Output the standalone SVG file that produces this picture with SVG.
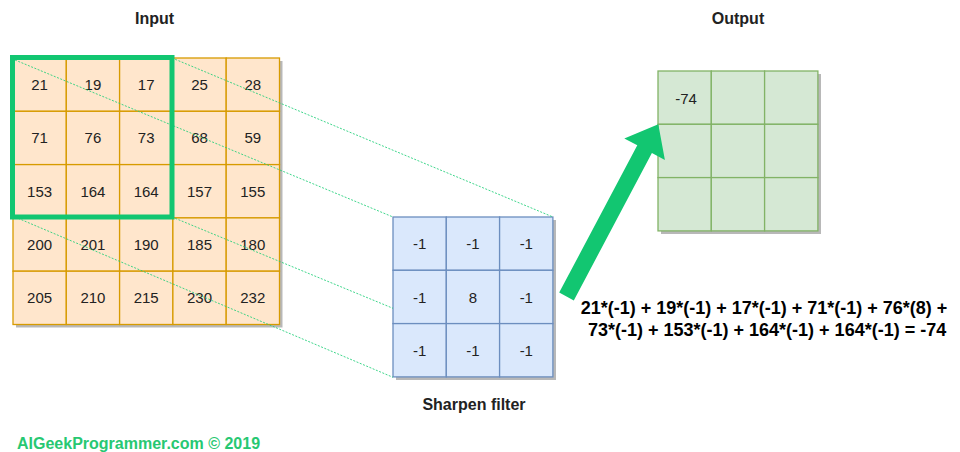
<svg xmlns="http://www.w3.org/2000/svg" width="960" height="452" viewBox="0 0 960 452">
  <style>
    text { font-family: "Liberation Sans", Arial, sans-serif; }
    .title { font-size: 16px; font-weight: bold; fill: #222; text-anchor: middle; }
    .num { font-size: 15px; fill: #222; text-anchor: middle; }
    .eq { font-size: 18px; font-weight: bold; fill: #000; }
    .in-cell { fill: #ffe6cc; stroke: #d79b00; stroke-width: 1.3; }
    .flt-cell { fill: #dae8fc; stroke: #6c8ebf; stroke-width: 1.3; }
    .out-cell { fill: #d5e8d4; stroke: #82b366; stroke-width: 1.3; }
    .shadow { fill: #000; opacity: 0.28; }
    .guide { stroke: #1fcf78; stroke-width: 1; stroke-dasharray: 2 1.5; fill: none; opacity: 0.85; }
    .footer { font-size: 16px; font-weight: bold; fill: #27c872; }
  </style>

  <rect width="960" height="452" fill="#ffffff"/>

  <!-- Titles -->
  <text class="title" x="154.5" y="24">Input</text>
  <text class="title" x="738" y="24">Output</text>

  <!-- Input image 5x5 -->
  <g id="input">
    <rect class="shadow" x="16" y="61" width="266.5" height="266.5"/>
    <g transform="translate(13,58)">
      <rect class="in-cell" x="0" y="0" width="53.3" height="53.3"/>
      <rect class="in-cell" x="53.3" y="0" width="53.3" height="53.3"/>
      <rect class="in-cell" x="106.6" y="0" width="53.3" height="53.3"/>
      <rect class="in-cell" x="159.9" y="0" width="53.3" height="53.3"/>
      <rect class="in-cell" x="213.2" y="0" width="53.3" height="53.3"/>
      <rect class="in-cell" x="0" y="53.3" width="53.3" height="53.3"/>
      <rect class="in-cell" x="53.3" y="53.3" width="53.3" height="53.3"/>
      <rect class="in-cell" x="106.6" y="53.3" width="53.3" height="53.3"/>
      <rect class="in-cell" x="159.9" y="53.3" width="53.3" height="53.3"/>
      <rect class="in-cell" x="213.2" y="53.3" width="53.3" height="53.3"/>
      <rect class="in-cell" x="0" y="106.6" width="53.3" height="53.3"/>
      <rect class="in-cell" x="53.3" y="106.6" width="53.3" height="53.3"/>
      <rect class="in-cell" x="106.6" y="106.6" width="53.3" height="53.3"/>
      <rect class="in-cell" x="159.9" y="106.6" width="53.3" height="53.3"/>
      <rect class="in-cell" x="213.2" y="106.6" width="53.3" height="53.3"/>
      <rect class="in-cell" x="0" y="159.9" width="53.3" height="53.3"/>
      <rect class="in-cell" x="53.3" y="159.9" width="53.3" height="53.3"/>
      <rect class="in-cell" x="106.6" y="159.9" width="53.3" height="53.3"/>
      <rect class="in-cell" x="159.9" y="159.9" width="53.3" height="53.3"/>
      <rect class="in-cell" x="213.2" y="159.9" width="53.3" height="53.3"/>
      <rect class="in-cell" x="0" y="213.2" width="53.3" height="53.3"/>
      <rect class="in-cell" x="53.3" y="213.2" width="53.3" height="53.3"/>
      <rect class="in-cell" x="106.6" y="213.2" width="53.3" height="53.3"/>
      <rect class="in-cell" x="159.9" y="213.2" width="53.3" height="53.3"/>
      <rect class="in-cell" x="213.2" y="213.2" width="53.3" height="53.3"/>
    </g>
    <g class="num">
      <text x="39.6" y="90">21</text><text x="92.9" y="90">19</text><text x="146.2" y="90">17</text><text x="199.5" y="90">25</text><text x="252.8" y="90">28</text>
      <text x="39.6" y="143.3">71</text><text x="92.9" y="143.3">76</text><text x="146.2" y="143.3">73</text><text x="199.5" y="143.3">68</text><text x="252.8" y="143.3">59</text>
      <text x="39.6" y="196.6">153</text><text x="92.9" y="196.6">164</text><text x="146.2" y="196.6">164</text><text x="199.5" y="196.6">157</text><text x="252.8" y="196.6">155</text>
      <text x="39.6" y="249.9">200</text><text x="92.9" y="249.9">201</text><text x="146.2" y="249.9">190</text><text x="199.5" y="249.9">185</text><text x="252.8" y="249.9">180</text>
      <text x="39.6" y="303.2">205</text><text x="92.9" y="303.2">210</text><text x="146.2" y="303.2">215</text><text x="199.5" y="303.2">230</text><text x="252.8" y="303.2">232</text>
    </g>
  </g>

  <!-- Sharpen filter 3x3 -->
  <g id="filter">
    <rect class="shadow" x="396" y="220" width="160" height="160"/>
    <g transform="translate(393,217)">
      <rect class="flt-cell" x="0" y="0" width="53.3" height="53.3"/>
      <rect class="flt-cell" x="53.3" y="0" width="53.3" height="53.3"/>
      <rect class="flt-cell" x="106.6" y="0" width="53.3" height="53.3"/>
      <rect class="flt-cell" x="0" y="53.3" width="53.3" height="53.3"/>
      <rect class="flt-cell" x="53.3" y="53.3" width="53.3" height="53.3"/>
      <rect class="flt-cell" x="106.6" y="53.3" width="53.3" height="53.3"/>
      <rect class="flt-cell" x="0" y="106.6" width="53.3" height="53.3"/>
      <rect class="flt-cell" x="53.3" y="106.6" width="53.3" height="53.3"/>
      <rect class="flt-cell" x="106.6" y="106.6" width="53.3" height="53.3"/>
    </g>
    <g class="num">
      <text x="419.7" y="249.2">-1</text><text x="473" y="249.2">-1</text><text x="526.3" y="249.2">-1</text>
      <text x="419.7" y="302.5">-1</text><text x="473" y="302.5">8</text><text x="526.3" y="302.5">-1</text>
      <text x="419.7" y="355.8">-1</text><text x="473" y="355.8">-1</text><text x="526.3" y="355.8">-1</text>
    </g>
    <text class="title" x="474" y="410">Sharpen filter</text>
  </g>

  <!-- Output feature map 3x3 -->
  <g id="output">
    <rect class="shadow" x="661" y="74" width="160" height="160"/>
    <g transform="translate(658,71)">
      <rect class="out-cell" x="0" y="0" width="53.3" height="53.3"/>
      <rect class="out-cell" x="53.3" y="0" width="53.3" height="53.3"/>
      <rect class="out-cell" x="106.6" y="0" width="53.3" height="53.3"/>
      <rect class="out-cell" x="0" y="53.3" width="53.3" height="53.3"/>
      <rect class="out-cell" x="53.3" y="53.3" width="53.3" height="53.3"/>
      <rect class="out-cell" x="106.6" y="53.3" width="53.3" height="53.3"/>
      <rect class="out-cell" x="0" y="106.6" width="53.3" height="53.3"/>
      <rect class="out-cell" x="53.3" y="106.6" width="53.3" height="53.3"/>
      <rect class="out-cell" x="106.6" y="106.6" width="53.3" height="53.3"/>
    </g>
    <text class="num" x="686" y="104">-74</text>
  </g>

  <!-- Connectors: receptive field projection and result arrow -->
  <g id="connectors">
    <line class="guide" x1="15" y1="60" x2="393" y2="217"/>
    <line class="guide" x1="172" y1="58" x2="553" y2="217"/>
    <line class="guide" x1="172" y1="217" x2="393" y2="308.3"/>
    <line class="guide" x1="15" y1="217" x2="393" y2="377.3"/>
    <polygon fill="#12c671" points="559.2,292.6 637.3,145.3 624.3,138.4 658.3,124.3 664.9,160 651.9,153.1 573.8,300.4"/>
  </g>

  <!-- Highlighted 3x3 window on the input -->
  <g id="window">
    <rect x="12.5" y="57.5" width="159.5" height="159.5" fill="none" stroke="#12c671" stroke-width="5"/>
  </g>

  <!-- Computation -->
  <g id="equation">
    <text class="eq" x="580.7" y="314">21*(-1) + 19*(-1) + 17*(-1) + 71*(-1) + 76*(8) +</text>
    <text class="eq" x="588" y="335.7">73*(-1) + 153*(-1) + 164*(-1) + 164*(-1) = -74</text>
  </g>

  <text class="footer" x="17" y="449">AIGeekProgrammer.com © 2019</text>
</svg>
